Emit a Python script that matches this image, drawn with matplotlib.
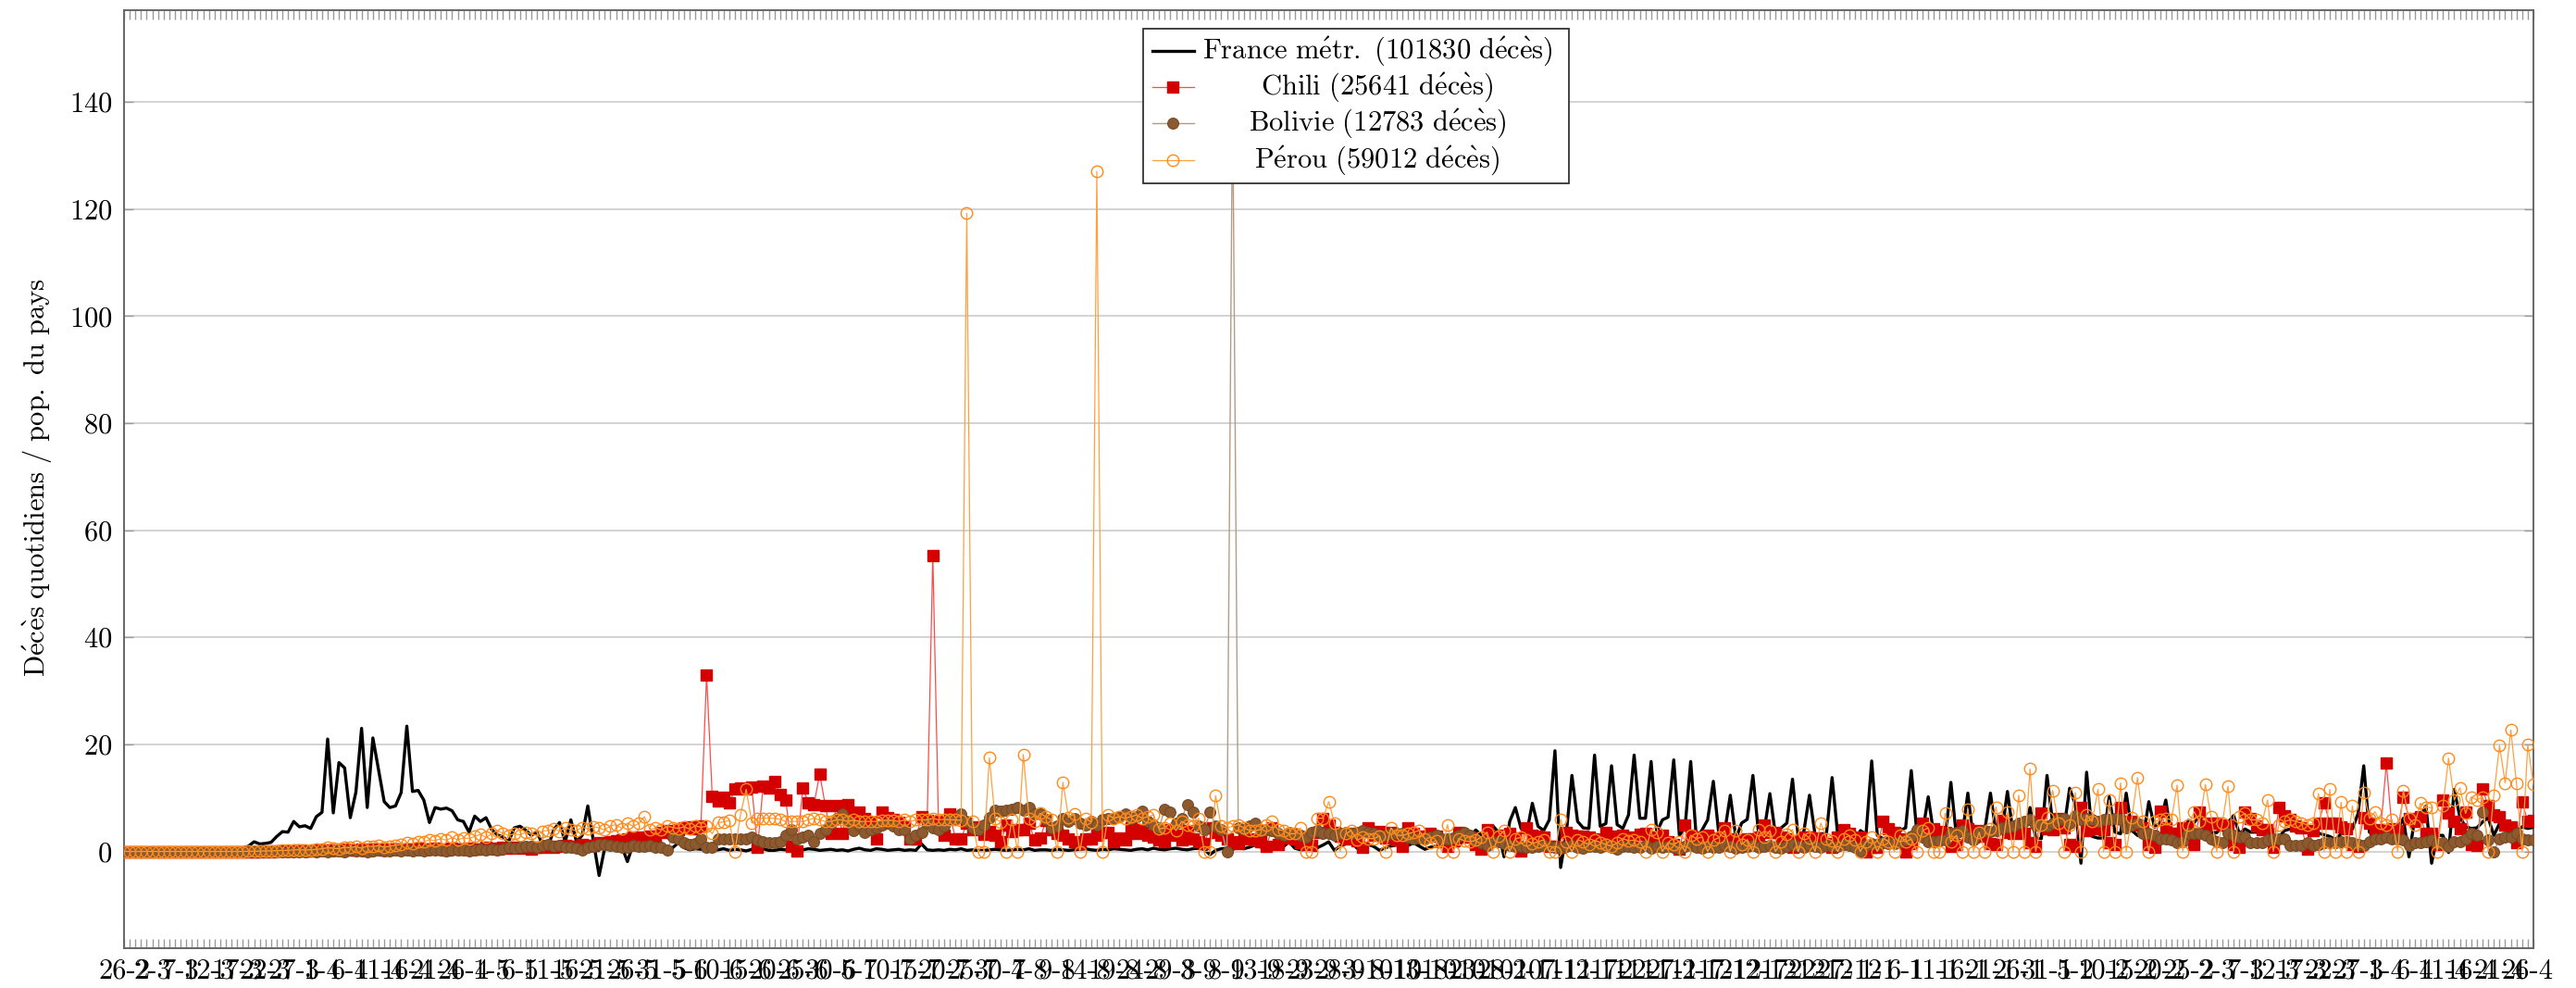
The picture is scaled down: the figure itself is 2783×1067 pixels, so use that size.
import numpy as np
import pandas as pd
import matplotlib
matplotlib.use("Agg")
import matplotlib.pyplot as plt
from matplotlib.lines import Line2D
from matplotlib.patches import Rectangle

plt.rcParams['font.family'] = ['cmr10', 'DejaVu Serif']
plt.rcParams['mathtext.fontset'] = 'cm'
plt.rcParams['axes.formatter.use_mathtext'] = True

# daily deaths per million, one value per day starting 26-2-2020
start_date = "2020-02-26"
n_days = 427

france = [
    0, 0, 0, 0, 0, 0, 0, 0, 0, 0,
    0, 0, 0, 0, 0, 0.0, 0.1, 0.1, 0.2, 0.2,
    0.3, 0.6, 1.0, 1.8, 1.4, 1.5, 1.7, 2.8, 3.7, 3.6,
    5.6, 4.6, 4.8, 4.3, 6.5, 7.3, 21.0, 7.2, 16.6, 15.6,
    6.3, 11.1, 23.0, 8.2, 21.2, 15.3, 9.3, 8.2, 8.5, 11.0,
    23.4, 11.2, 11.4, 9.6, 5.4, 8.2, 7.9, 8.1, 7.6, 5.9,
    5.6, 3.6, 6.6, 5.6, 6.3, 4.1, 3.1, 2.7, 1.8, 4.4,
    4.7, 4.0, 3.0, 3.6, 1.3, 1.0, 4.1, 5.4, 1.8, 5.9,
    1.8, 3.0, 8.5, 1.8, -4.5, 0.7, 1.3, 1.3, 1.0, -1.9,
    1.3, 0.7, 0.4, 0.5, 1.0, 0.3, 0.5, 0.7, 1.6, 0.7,
    0.3, 0.5, 0.4, 0.6, 0.3, 0.3, 0.5, 0.2, 0.4, 0.3,
    0.1, 0.4, 0.3, 0.5, 0.2, 0.2, 0.4, 0.3, 0.2, 0.1,
    0.3, 0.5, 0.4, 0.2, 0.3, 0.4, 0.2, 0.3, 0.1, 0.4,
    0.6, 0.3, 0.2, 0.5, 0.4, 0.2, 0.3, 0.4, 0.2, 0.3,
    0.2, 1.4, 0.3, 0.2, 0.3, 0.2, 0.4, 0.3, 0.5, 0.2,
    0.3, 0.2, 0.2, 0.3, 0.4, 0.3, 0.2, 0.3, 0.4, 0.3,
    0.5, 0.2, 0.3, 0.3, 0.2, 0.4, 0.3, 0.2, 0.3, 0.4,
    0.5, 0.3, 0.2, 0.4, 0.3, 0.5, 0.4, 0.3, 0.2, 0.4,
    0.5, 0.3, 0.6, 0.4, 0.3, 0.5, 0.6, 0.4, 0.3, 0.5,
    0.6, 0.4, -0.6, 0.2, 0.5, 0.6, 0.4, 0.7, 0.5, 0.8,
    1.2, 0.8, 0.2, 0.6, 0.7, 0.9, 1.8, 0.6, 0.3, 0.4,
    0.8, 0.7, 1.2, 1.8, 0.2, 1.0, 1.4, 1.8, 0.6, 0.8,
    1.3, 0.9, 0.2, 0.7, 1.0, 1.2, 0.8, 1.1, 1.6, 1.0,
    0.4, 0.8, 1.0, 1.1, 0.9, 1.4, 1.0, 2.2, 2.8, 4.0,
    3.0, 2.6, 4.8, 3.6, -1.0, 5.6, 8.2, 4.3, 3.4, 9.0,
    4.7, 3.9, 5.9, 18.8, -3.0, 3.3, 14.2, 5.6, 4.4, 4.3,
    18.0, 4.7, 5.2, 16.0, 5.0, 4.3, 6.8, 18.0, 6.2, 6.2,
    16.8, 3.6, 5.9, 6.4, 17.1, 3.0, 4.5, 16.8, 2.4, 4.0,
    5.9, 13.1, 3.0, 3.6, 10.5, 2.4, 5.3, 6.0, 14.2, 3.3,
    4.0, 10.8, 3.0, 4.4, 5.3, 13.5, 2.7, 3.7, 10.5, 3.0,
    3.3, 3.3, 13.8, 3.0, 1.8, 1.3, 1.3, 3.9, 3.2, 16.9,
    3.0, 2.4, 2.6, 3.3, 3.9, 4.4, 15.1, 3.3, 3.6, 10.2,
    3.0, 3.0, 2.1, 12.9, 2.6, 3.0, 10.9, 2.0, 1.8, 4.1,
    10.9, 3.2, 3.6, 11.2, 3.5, 3.9, 3.3, 8.2, 2.5, 2.4,
    14.2, 5.3, 4.1, 4.3, 11.8, 8.8, -2.2, 14.8, 2.8, 2.5,
    2.5, 10.2, 3.6, 3.3, 10.9, 3.9, 3.0, 2.7, 9.3, 4.5,
    5.3, 9.6, 2.6, 1.8, 2.9, 5.8, 5.4, 6.7, 4.1, 3.6,
    3.5, 4.7, 5.4, 6.7, 3.3, 4.2, 3.6, 3.6, 3.6, 4.3,
    2.7, 2.7, 3.9, 4.2, 3.7, 4.1, 5.0, 3.6, 3.4, 3.1,
    2.8, 2.2, 3.3, 4.2, 4.2, 7.1, 16.0, 3.6, 3.0, 3.4,
    4.4, 4.4, 4.2, 6.2, -1.0, 6.2, 6.6, 8.5, -2.2, 3.0,
    3.0, -0.2, 11.6, 6.4, 4.6, 4.3, 4.4, 5.5, 6.3, 3.0,
    5.2, 5.5, 4.4, 3.8, 4.6, 4.3, 4.5,
]

chili = [
    0, 0, 0, 0, 0, 0, 0, 0, 0, 0,
    0, 0, 0, 0, 0, 0, 0, 0, 0, 0,
    0, 0, 0, 0, 0, 0.05, 0, 0.1, 0.1, 0.05,
    0.1, 0.2, 0.1, 0.1, 0.2, 0.2, 0.3, 0.2, 0.2, 0.4,
    0.3, 0.3, 0.4, 0.2, 0.4, 0.5, 0.3, 0.4, 0.5, 0.4,
    0.5, 0.4, 0.6, 0.4, 0.5, 0.6, 0.5, 0.3, 0.6, 0.4,
    0.5, 0.6, 0.4, 0.5, 0.7, 0.6, 0.5, 0.7, 0.6, 0.8,
    0.6, 0.7, 0.5, 0.8, 0.7, 0.9, 0.8, 1.0, 1.2, 0.9,
    1.0, 1.3, 1.1, 1.2, 1.6, 1.5, 1.8, 2.0, 2.2, 2.4,
    2.6, 2.5, 2.7, 2.9, 2.8, 3.6, 3.9, 3.3, 4.1, 4.4,
    4.6, 4.2, 4.8, 33.0, 10.3, 9.5, 10.2, 9.0, 11.6, 11.9,
    11.6, 12.0, 0.7, 12.2, 11.9, 13.1, 10.6, 9.6, 1.0, 0.1,
    11.9, 9.0, 8.8, 14.5, 8.5, 3.3, 8.6, 3.3, 8.8, 7.0,
    7.3, 6.2, 5.5, 2.4, 7.3, 6.4, 5.9, 5.5, 4.8, 2.4,
    2.4, 6.5, 5.8, 55.3, 5.6, 3.0, 7.0, 2.4, 2.4, 5.2,
    4.1, 4.6, 3.2, 3.8, 3.0, 1.8, 5.0, 3.8, 4.1, 4.1,
    5.3, 2.1, 2.5, 5.8, 4.1, 3.3, 3.0, 2.4, 1.8, 1.5,
    2.3, 2.4, 3.0, 3.6, 3.5, 1.8, 2.5, 2.1, 4.4, 3.3,
    4.1, 3.0, 2.6, 2.1, 1.8, 4.1, 3.0, 2.1, 3.9, 2.4,
    1.8, 1.5, 4.4, 3.6, 3.0, 2.4, 1.8, 1.5, 3.0, 2.4,
    2.1, 1.9, 1.0, 4.4, 1.3, 2.5, 3.0, 2.4, 1.6, 1.3,
    1.2, 3.6, 6.2, 5.0, 3.6, 2.8, 2.4, 3.3, 2.0, 0.7,
    4.4, 3.0, 3.7, 2.5, 3.6, 2.2, 1.0, 4.4, 3.3, 2.7,
    2.9, 3.3, 2.8, 1.8, 1.0, 2.0, 3.6, 2.8, 2.7, 1.3,
    0.4, 4.1, 2.7, 2.8, 3.0, 3.3, 2.5, 0.1, 4.4, 3.0,
    2.8, 2.7, 1.0, 1.0, 0.7, 3.6, 3.0, 2.9, 2.8, 2.7,
    2.4, 1.8, 3.6, 2.7, 2.8, 3.0, 2.7, 2.5, 3.2, 3.3,
    2.4, 2.6, 3.0, 1.8, 1.3, 0.4, 5.0, 3.0, 2.4, 2.6,
    3.0, 2.1, 2.5, 4.4, 2.4, 2.2, 1.8, 2.4, 2.4, 2.7,
    5.0, 3.6, 3.6, 2.6, 2.4, 0.7, 2.0, 2.7, 2.7, 2.5,
    2.4, 1.5, 0.7, 2.7, 4.1, 3.3, 2.4, 2.7, 0.0, 0.7,
    0.7, 5.6, 4.2, 3.6, 2.4, 0.0, 1.5, 3.0, 5.3, 3.3,
    4.2, 3.8, 3.6, 1.0, 1.3, 5.0, 4.2, 3.5, 3.9, 2.8,
    1.5, 1.3, 5.8, 3.6, 3.3, 3.5, 3.3, 1.6, 1.0, 7.1,
    4.2, 4.0, 6.1, 4.5, 1.3, 1.0, 8.2, 3.9, 4.3, 4.4,
    4.0, 1.6, 1.3, 8.2, 5.7, 5.6, 5.0, 4.4, 1.3, 0.7,
    7.6, 4.5, 3.3, 3.3, 4.4, 4.4, 1.3, 7.3, 4.7, 5.2,
    5.3, 5.0, 4.8, 1.3, 0.7, 7.3, 6.2, 4.8, 4.0, 4.1,
    0.7, 8.2, 6.7, 6.0, 4.8, 4.5, 0.4, 3.9, 5.2, 9.0,
    5.3, 5.3, 4.6, 4.2, 1.3, 1.0, 6.4, 5.2, 3.9, 4.1,
    16.5, 4.2, 3.9, 10.2, 6.2, 5.6, 6.5, 3.3, 3.3, 1.3,
    9.6, 7.1, 5.6, 4.3, 7.3, 1.3, 1.2, 11.6, 8.5, 6.8,
    6.5, 5.0, 4.6, 1.6, 9.3, 5.6, 5.8,
]

bolivie = [
    0, 0, 0, 0, 0, 0, 0, 0, 0, 0,
    0, 0, 0, 0, 0, 0, 0, 0, 0, 0,
    0, 0, 0, 0, 0, 0, 0, 0, 0, 0,
    0, 0, 0.0, 0.1, 0.0, 0.1, 0.0, 0.1, 0.1, 0.0,
    0.2, 0.1, 0.1, 0.0, 0.1, 0.2, 0.1, 0.1, 0.2, 0.1,
    0.2, 0.1, 0.2, 0.1, 0.2, 0.3, 0.2, 0.1, 0.3, 0.2,
    0.3, 0.1, 0.3, 0.4, 0.2, 0.5, 0.3, 0.5, 0.7, 0.6,
    0.8, 0.9, 1.0, 0.7, 1.1, 1.3, 0.9, 1.2, 0.7, 0.8,
    0.6, 0.3, 0.7, 1.0, 1.3, 1.3, 1.1, 0.9, 0.7, 0.8,
    1.2, 1.0, 0.9, 1.1, 0.7, 0.8, 0.3, 2.7, 2.4, 1.6,
    1.3, 1.5, 2.4, 0.7, 0.7, 2.4, 2.4, 2.4, 2.4, 2.4,
    2.3, 2.7, 2.1, 1.8, 1.6, 1.6, 1.8, 3.0, 4.1, 2.4,
    2.7, 3.0, 1.8, 3.3, 4.1, 5.3, 6.2, 7.0, 5.8, 3.9,
    5.0, 3.6, 4.1, 4.4, 5.0, 5.3, 4.7, 4.1, 4.1, 2.4,
    3.0, 3.6, 5.3, 4.4, 4.1, 4.7, 6.2, 5.9, 7.0, 5.6,
    4.4, 4.1, 5.0, 6.4, 7.7, 7.5, 7.7, 7.9, 8.2, 7.7,
    8.2, 7.0, 7.0, 5.9, 4.4, 4.7, 6.2, 5.6, 6.2, 5.3,
    5.0, 5.6, 5.0, 5.9, 6.2, 6.2, 6.5, 7.0, 6.2, 6.5,
    7.6, 5.6, 5.0, 4.4, 7.9, 7.3, 5.3, 6.2, 8.8, 7.3,
    4.7, 4.1, 7.3, 4.7, 4.1, 0.0, 142.0, 4.4, 4.1, 4.7,
    5.2, 3.9, 4.1, 3.9, 3.3, 3.0, 3.6, 3.3, 3.0, 2.7,
    3.6, 3.9, 3.3, 3.3, 3.0, 3.3, 3.6, 3.3, 3.6, 3.9,
    3.6, 3.3, 3.0, 3.0, 3.3, 3.3, 3.3, 2.7, 2.4, 2.5,
    2.4, 2.7, 3.0, 2.4, 2.4, 2.5, 3.0, 3.6, 3.0, 2.2,
    1.6, 1.2, 1.8, 1.8, 1.5, 1.2, 1.0, 0.9, 0.8, 0.7,
    1.0, 1.2, 0.9, 0.7, 0.6, 0.9, 1.1, 0.8, 0.6, 1.0,
    0.9, 0.7, 1.2, 0.8, 0.5, 0.9, 1.0, 0.7, 0.8, 1.1,
    0.6, 0.9, 0.8, 1.0, 0.7, 0.5, 0.9, 1.2, 0.8, 0.6,
    1.0, 0.8, 0.7, 1.1, 0.9, 0.6, 0.8, 1.0, 1.2, 0.7,
    0.9, 1.1, 0.8, 0.6, 1.0, 1.3, 0.9, 0.7, 1.1, 1.0,
    0.8, 1.2, 1.0, 0.9, 1.3, 1.1, 0.8, 0.1, 1.2, 1.4,
    1.3, 1.6, 1.5, 1.4, 1.8, 2.2, 2.8, 4.1, 2.6, 1.8,
    1.8, 2.0, 2.1, 3.3, 3.6, 3.9, 2.6, 2.1, 3.6, 3.9,
    3.8, 3.9, 4.4, 4.6, 4.7, 5.3, 5.6, 5.9, 5.0, 4.9,
    4.7, 5.3, 5.9, 6.2, 5.3, 6.7, 6.0, 6.2, 5.9, 5.6,
    5.9, 6.0, 6.2, 5.9, 4.4, 5.0, 5.3, 3.3, 3.3, 3.0,
    2.4, 2.4, 2.1, 1.6, 1.8, 3.3, 3.3, 3.3, 3.0, 2.4,
    1.8, 1.6, 3.3, 3.0, 2.7, 2.7, 1.6, 1.6, 1.6, 2.1,
    2.4, 2.4, 2.4, 1.2, 1.2, 1.2, 1.6, 1.2, 1.3, 1.6,
    1.6, 1.6, 1.8, 1.8, 1.6, 1.3, 1.2, 1.8, 2.4, 2.4,
    2.7, 2.4, 2.4, 2.1, 1.2, 1.6, 1.6, 1.8, 2.1, 1.5,
    1.6, 1.0, 1.8, 1.8, 2.4, 3.3, 3.0, 7.3, 2.1, 0.0,
    2.4, 2.7, 2.7, 3.3, 2.4, 2.1, 2.1,
]

perou = [
    0, 0, 0, 0, 0, 0, 0, 0, 0, 0,
    0, 0, 0, 0, 0, 0, 0, 0, 0, 0,
    0, 0, 0.03, 0.03, 0.06, 0.1, 0.1, 0.15, 0.2, 0.2,
    0.3, 0.3, 0.25, 0.3, 0.4, 0.5, 0.7, 0.6, 0.5, 0.8,
    0.7, 0.9, 0.6, 1.0, 0.9, 1.1, 0.8, 1.0, 1.2, 1.3,
    1.6, 1.5, 1.8, 1.8, 2.2, 2.0, 2.4, 2.1, 2.6, 2.2,
    2.5, 2.4, 2.8, 3.2, 2.6, 3.3, 3.9, 3.4, 3.0, 3.3,
    3.1, 3.6, 3.3, 2.9, 3.8, 3.9, 4.2, 3.8, 4.4, 4.1,
    3.9, 4.5, 4.2, 4.6, 4.4, 4.0, 4.8, 5.0, 4.3, 5.3,
    4.7, 5.2, 6.5, 4.1, 4.4, 4.0, 4.7, 4.5, 4.3, 4.6,
    4.2, 4.8, 4.5, 4.7, 3.3, 5.4, 5.5, 5.8, 0.0, 6.9,
    11.6, 5.3, 6.2, 6.2, 6.2, 6.2, 6.0, 5.6, 5.6, 5.6,
    5.6, 5.9, 6.2, 5.9, 5.6, 5.6, 5.9, 5.9, 5.6, 5.9,
    5.6, 5.6, 5.6, 5.6, 5.8, 5.8, 5.8, 5.6, 5.9, 5.6,
    5.9, 5.9, 5.9, 6.2, 5.9, 6.0, 5.9, 5.9, 5.8, 119.2,
    5.6, 0.0, 0.0, 17.5, 6.2, 5.5, 0.0, 5.9, 0.0, 18.1,
    6.2, 5.6, 7.1, 6.5, 5.9, 0.0, 12.9, 6.4, 7.0, 0.0,
    6.2, 5.5, 127.0, 0.0, 6.8, 6.2, 6.5, 6.2, 6.5, 6.8,
    6.2, 6.5, 6.8, 4.2, 4.4, 5.3, 3.9, 5.6, 5.0, 4.7,
    6.2, 0.0, 0.0, 10.4, 4.7, 4.4, 4.7, 5.0, 4.4, 3.9,
    3.9, 4.1, 5.0, 5.6, 4.1, 3.9, 3.3, 3.3, 4.4, 0.0,
    0.0, 6.2, 6.2, 9.3, 5.3, 0.0, 3.3, 3.9, 2.1, 2.6,
    2.4, 2.4, 2.9, 0.0, 4.4, 3.0, 3.0, 3.3, 3.6, 3.9,
    2.4, 1.6, 2.0, 0.0, 5.0, 0.0, 2.4, 2.0, 1.8, 2.1,
    2.7, 3.6, 0.0, 2.8, 3.9, 0.0, 2.4, 2.6, 2.1, 1.5,
    1.8, 2.2, 0.0, 0.0, 6.0, 1.8, 0.0, 2.2, 1.8, 1.3,
    2.1, 1.7, 1.3, 1.0, 1.6, 2.4, 2.0, 2.1, 1.8, 0.0,
    4.1, 3.6, 0.0, 1.6, 1.3, 1.9, 0.0, 3.0, 2.4, 2.7,
    0.0, 2.1, 2.6, 3.9, 0.0, 3.9, 1.3, 2.2, 0.0, 4.1,
    2.6, 3.9, 0.0, 1.8, 3.2, 4.1, 0.0, 3.3, 2.5, 0.0,
    5.3, 2.4, 2.0, 0.0, 2.4, 3.0, 2.2, 0.0, 1.8, 2.6,
    0.0, 2.4, 1.9, 0.0, 3.0, 1.8, 2.3, 0.0, 3.9, 4.4,
    0.0, 0.0, 7.1, 1.8, 3.0, 0.0, 7.9, 0.0, 3.6, 0.0,
    4.2, 8.3, 0.0, 7.4, 0.0, 10.5, 0.0, 15.4, 0.0, 5.0,
    6.3, 11.4, 5.3, 0.0, 5.0, 11.0, 0.0, 6.8, 5.6, 11.6,
    0.0, 9.6, 0.0, 12.8, 0.0, 6.3, 13.8, 5.6, 0.0, 5.6,
    5.9, 6.2, 5.9, 12.4, 0.0, 5.0, 7.4, 5.6, 12.5, 6.5,
    0.0, 5.3, 12.2, 0.0, 6.5, 7.1, 5.9, 5.9, 5.3, 9.6,
    0.0, 5.0, 5.6, 5.9, 5.6, 5.3, 5.0, 5.2, 10.8, 0.0,
    11.6, 0.0, 9.2, 0.0, 8.5, 0.0, 11.0, 6.2, 7.4, 5.3,
    5.0, 6.0, 0.0, 11.4, 6.2, 5.0, 9.0, 8.2, 8.2, 0.0,
    8.5, 17.4, 9.6, 11.9, 7.1, 10.2, 9.6, 10.2, 0.0, 10.5,
    19.8, 12.8, 22.7, 12.8, 0.0, 20.0, 12.5,
]

labels = [
    r"$\mathrm{France\ m\acute{e}tr.\ (101830\ d\acute{e}c\grave{e}s)}$",
    r"$\mathrm{Chili\ (25641\ d\acute{e}c\grave{e}s)}$",
    r"$\mathrm{Bolivie\ (12783\ d\acute{e}c\grave{e}s)}$",
    r"$\mathrm{P\acute{e}rou\ (59012\ d\acute{e}c\grave{e}s)}$",
]
ylabel = r"$\mathrm{D\acute{e}c\grave{e}s\ quotidiens\ /\ pop.\ du\ pays}$"
yticks = [0, 20, 40, 60, 80, 100, 120, 140]

for name, s in [("france", france), ("chili", chili), ("bolivie", bolivie), ("perou", perou)]:
    assert len(s) == n_days, (name, len(s))

dates = pd.date_range(start_date, periods=n_days)
x = np.arange(n_days)
xtick_pos = x[::5]
xtick_labels = [f"{d.day}-{d.month}" for d in dates[::5]]

W, H = 2783, 1067
fig = plt.figure(figsize=(W / 100, H / 100), dpi=100)
ax = fig.add_axes([134 / W, 1 - 1024 / H, (2737 - 134) / W, (1024 - 10.6) / H])

styles = [
    dict(color='black', lw=2.4, zorder=3),
    dict(color='#ff4a4a', lw=0.9, marker='s', ms=8.5, mfc='#d40000', mec='#d40000', zorder=4),
    dict(color='#b39c86', lw=1.0, marker='o', ms=8.5, mfc='#8c5a2e', mec='#774a24', mew=0.8, zorder=5),
    dict(color='#ffa040', lw=0.9, marker='o', ms=9, mfc='none', mec='#ff8a1a', mew=1.0, zorder=6),
]
for s, st in zip([france, chili, bolivie, perou], styles):
    ax.plot(x, s, **st)

ax.set_xlim(0, n_days - 1)
ax.set_ylim(-18.07, 157.2)
ax.set_yticks(yticks)
ax.set_xticks(xtick_pos)
ax.set_xticklabels(xtick_labels)
ax.set_xticks(x, minor=True)
ax.tick_params(axis='x', which='both', direction='in', top=True, bottom=True,
               length=7, width=1, color='#9a9a9a', labelsize=22, pad=8)
ax.tick_params(axis='y', direction='in', left=True, right=True,
               length=7, width=1, color='#9a9a9a', labelsize=22, pad=9)
ax.yaxis.grid(True, color='#cccccc', lw=1.2)
ax.set_axisbelow(True)
for sp in ax.spines.values():
    sp.set_color('#666666')
    sp.set_linewidth(1.4)

ax.set_ylabel(ylabel, fontsize=22)
ax.yaxis.set_label_coords((58 - 134) / (2737 - 134), 0.502)

# legend box (drawn by hand so that the labels are centred like the original)
lx0, lx1, ly0, ly1 = 1235, 1695, 30.7, 197.7
fig.add_artist(Rectangle((lx0 / W, 1 - ly1 / H), (lx1 - lx0) / W, (ly1 - ly0) / H,
                         transform=fig.transFigure, facecolor='white',
                         edgecolor='#333333', lw=1.3, zorder=10))
rows = [55, 94, 133, 173]
for row, lab, st in zip(rows, labels, styles):
    yy = 1 - row / H
    st = dict(st)
    st.pop('zorder')
    fig.add_artist(Line2D([1245 / W, 1290 / W], [yy, yy], transform=fig.transFigure,
                          zorder=11, **{k: v for k, v in st.items() if k in ('color', 'lw')}))
    if 'marker' in st:
        fig.add_artist(Line2D([1267 / W], [yy], transform=fig.transFigure, zorder=12,
                              linestyle='none',
                              **{k: v for k, v in st.items() if k not in ('color', 'lw')}))
    fig.text(1488 / W, yy, lab, ha='center', va='center', fontsize=22, zorder=12)

fig.savefig("out.png", dpi=100)
